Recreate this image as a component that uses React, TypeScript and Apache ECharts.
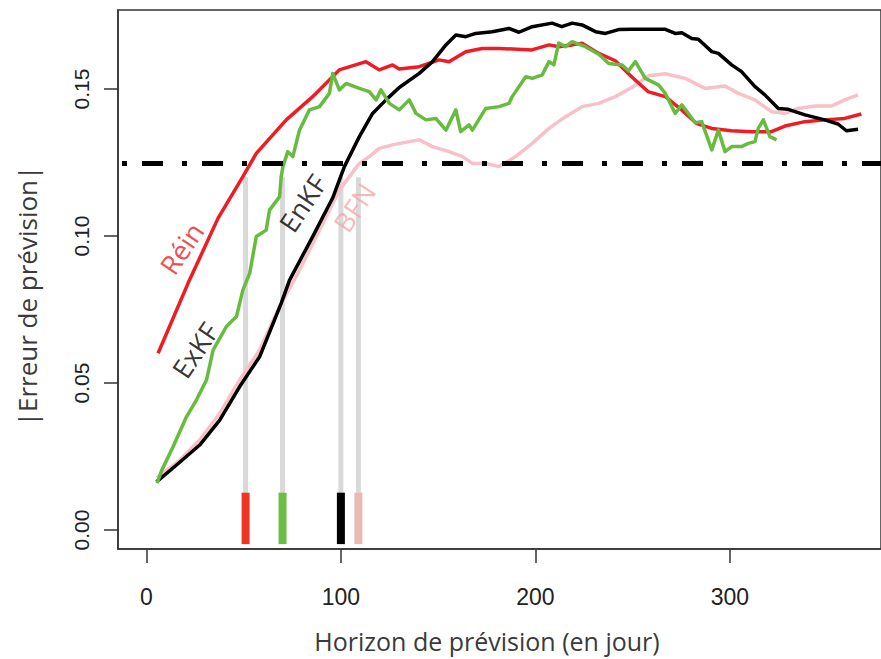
import { useEffect, useRef } from "react";
import * as echarts from "echarts";

// Réin (red)
const reinX = [6, 21.4, 36.8, 49.6, 56.5, 71.9, 85.5, 99.2, 112.9, 119.7, 126.6, 130, 140.3, 150.5, 155.6, 164.2, 172.7, 181.3, 198.2, 207, 212, 218.9, 224, 232.6, 241.1, 249.6, 258.2, 266.8, 275.2, 283, 290.7, 300.8, 311.2, 321.4, 328.3, 338.6, 348.8, 359, 367.6];
const reinY = [0.0601, 0.0839, 0.106, 0.1202, 0.1281, 0.1395, 0.1474, 0.1565, 0.1593, 0.1565, 0.1582, 0.1568, 0.1576, 0.1599, 0.1593, 0.1627, 0.1638, 0.1638, 0.1633, 0.165, 0.1644, 0.165, 0.1656, 0.1621, 0.1596, 0.1541, 0.149, 0.1474, 0.1429, 0.1382, 0.1366, 0.1358, 0.1355, 0.1355, 0.1374, 0.1389, 0.1395, 0.14, 0.1415];

// EnKF (black)
const enkfX = [5.2, 15.5, 27.4, 37.7, 47.9, 58.2, 69.3, 73.6, 85.5, 95.8, 101.8, 109.5, 116.3, 123.2, 130, 140.3, 147.1, 154, 159.1, 164.2, 169.3, 177.8, 186.4, 191.5, 198.4, 208.6, 213.6, 218.9, 224, 230.9, 236, 242.8, 249.6, 266.8, 271.9, 275.3, 280.4, 283.8, 290.7, 294.1, 300.9, 306, 312.9, 318, 324.9, 330, 338.6, 348.8, 355.6, 359.9, 365.9];
const enkfY = [0.0164, 0.0221, 0.0289, 0.0374, 0.0487, 0.0589, 0.0771, 0.085, 0.0998, 0.113, 0.1236, 0.1338, 0.1417, 0.1463, 0.1505, 0.1553, 0.1593, 0.165, 0.1684, 0.1678, 0.1689, 0.1695, 0.1706, 0.1693, 0.1712, 0.1724, 0.1712, 0.1724, 0.1718, 0.1695, 0.1689, 0.1702, 0.1703, 0.1703, 0.1689, 0.1691, 0.1672, 0.1669, 0.1627, 0.1621, 0.1582, 0.1559, 0.1508, 0.148, 0.1434, 0.1431, 0.1412, 0.1395, 0.1381, 0.1358, 0.1363];

// ExKF (green)
const exkfX = [5.5, 7.8, 13.7, 20.6, 25.7, 30.9, 34.3, 41.1, 46.3, 49.6, 53.1, 56.5, 61.6, 63.3, 68.5, 69.3, 70.2, 72.7, 75.3, 78.7, 83.8, 89, 94.1, 95.8, 99.2, 102.7, 109.5, 114.6, 118.1, 120.6, 124.9, 130, 135.1, 138.6, 143.7, 148.8, 154, 159.1, 161.6, 165.9, 167.6, 174.5, 181.3, 186.4, 188.1, 195, 198.4, 203.5, 207, 209.5, 212, 215.5, 218.9, 225.7, 232.6, 237.7, 244.5, 247.9, 251.4, 256.5, 263.3, 266.8, 271.9, 275.3, 282.2, 285.5, 290.7, 294.1, 297.5, 300.9, 306, 309.5, 312.9, 314.6, 317.2, 320.6, 324];
const exkfY = [0.0159, 0.0202, 0.0283, 0.0385, 0.0442, 0.051, 0.0612, 0.0692, 0.0726, 0.0816, 0.0873, 0.0998, 0.102, 0.1088, 0.1134, 0.1202, 0.1236, 0.1287, 0.127, 0.136, 0.1429, 0.144, 0.1485, 0.1553, 0.1497, 0.1519, 0.1502, 0.1491, 0.1463, 0.1497, 0.1451, 0.1429, 0.1463, 0.1417, 0.1395, 0.14, 0.136, 0.1429, 0.1355, 0.1378, 0.136, 0.1434, 0.144, 0.1451, 0.1474, 0.1542, 0.1536, 0.1548, 0.1593, 0.1582, 0.1656, 0.1644, 0.1661, 0.1644, 0.1618, 0.1587, 0.1582, 0.1562, 0.1593, 0.1536, 0.1514, 0.1485, 0.1417, 0.1446, 0.1385, 0.1389, 0.1293, 0.136, 0.1287, 0.1304, 0.1304, 0.1315, 0.1321, 0.1366, 0.1395, 0.1338, 0.1327];

// BFN (pink)
const bfnX = [5.4, 17.2, 27.4, 37.7, 47.9, 58.2, 68.5, 78.7, 89, 99.2, 109.5, 114.6, 119.7, 126.6, 135.1, 140.3, 147.1, 155.6, 162.5, 167.6, 174.5, 181.3, 189.8, 198.4, 207, 215.5, 224, 232.6, 241.1, 249.6, 258.2, 266.8, 277, 287.3, 297.5, 304.4, 312.9, 321.4, 328.3, 335.1, 343.7, 352.2, 359, 365.9];
const bfnY = [0.0177, 0.0238, 0.0306, 0.0397, 0.051, 0.0612, 0.076, 0.0884, 0.102, 0.1156, 0.1247, 0.127, 0.1298, 0.131, 0.1321, 0.1327, 0.1304, 0.1287, 0.127, 0.1247, 0.1247, 0.1236, 0.127, 0.1315, 0.1366, 0.1406, 0.144, 0.1451, 0.1474, 0.1505, 0.1545, 0.1552, 0.1536, 0.1502, 0.151, 0.1485, 0.1463, 0.1423, 0.1417, 0.1434, 0.1442, 0.1442, 0.1463, 0.148];

// threshold markers
const markerDays = [51, 70, 100, 109];
const markerColors = ["#ee3524", "#6abd45", "#000000", "#e8b9b5"];
const markerTop = 0.12;
const barTop = 0.0127;
const barBottom = -0.0048;
const threshold = 0.1247;

// ticks
const xTicks = [0, 100, 200, 300];
const yTicks = [0, 0.05, 0.1, 0.15];

// curve labels
const labelNames = ["Réin", "ExKF", "EnKF", "BFN"];
const labelX = [18, 24.9, 80.3, 106.9];
const labelY = [0.0958, 0.0612, 0.1112, 0.1097];
const labelColors = ["#ee1c24", "#000000", "#000000", "#f2a9a9"];

const X_MIN = -14.6;
const X_MAX = 377.7;
const Y_MIN = -0.00646;
const Y_MAX = 0.17687;

const zip = (xs: number[], ys: number[]) => xs.map((x, i) => [x, ys[i]]);

export default function App() {
  const ref = useRef<HTMLDivElement>(null);
  useEffect(() => {
    if (!ref.current) return;
    const chart = echarts.init(ref.current, null, { renderer: "svg" });
    const series: any[] = [];
    markerDays.forEach((d) => {
      series.push({
        type: "line",
        data: [[d, barTop], [d, markerTop]],
        symbol: "none",
        lineStyle: { color: "#d9d9d9", width: 5 },
        z: 1,
        silent: true,
      });
    });
    markerDays.forEach((d, i) => {
      series.push({
        type: "line",
        data: [[d, barBottom], [d, barTop]],
        symbol: "none",
        lineStyle: { color: markerColors[i], width: 8, cap: "butt" },
        z: 2,
        silent: true,
      });
    });
    const curves = [
      { x: bfnX, y: bfnY, c: "#f8c0c9" },
      { x: reinX, y: reinY, c: "#ee1c24" },
      { x: enkfX, y: enkfY, c: "#000000" },
      { x: exkfX, y: exkfY, c: "#67bb3f" },
    ];
    curves.forEach((cv) => {
      series.push({
        type: "line",
        data: zip(cv.x, cv.y),
        symbol: "none",
        lineStyle: { color: cv.c, width: 3.5, join: "round" },
        z: 3,
        silent: true,
      });
    });
    series.push({
      type: "line",
      data: [[X_MIN, threshold], [X_MAX, threshold]],
      symbol: "none",
      lineStyle: { color: "#000", width: 5, type: [21, 19, 5, 15], dashOffset: 36 },
      z: 4,
      silent: true,
    });
    series.push({
      type: "scatter",
      data: labelNames.map((n, i) => ({
        value: [labelX[i], labelY[i]],
        name: n,
        label: {
          show: true,
          formatter: n,
          position: "inside",
          rotate: 56,
          color: labelColors[i],
          fontSize: 27,
          fontFamily: "Open Sans",
        },
      })),
      symbolSize: 1,
      itemStyle: { color: "transparent" },
      z: 5,
      silent: true,
    });

    chart.setOption({
      animation: false,
      backgroundColor: "#ffffff",
      grid: {
        left: 118,
        top: 10,
        right: -2,
        bottom: 110,
        show: true,
        borderColor: "#333",
        borderWidth: 1.5,
        containLabel: false,
      },
      xAxis: {
        type: "value",
        min: X_MIN,
        max: X_MAX,
        axisLine: { show: true, onZero: false, lineStyle: { color: "#333", width: 1.5 } },
        axisTick: { show: true, customValues: xTicks, length: 14, lineStyle: { color: "#333", width: 1.5 } },
        axisLabel: {
          customValues: xTicks,
          fontSize: 23,
          fontFamily: "Liberation Sans",
          color: "#222",
          margin: 36,
        },
        splitLine: { show: false },
      },
      yAxis: {
        type: "value",
        min: Y_MIN,
        max: Y_MAX,
        axisLine: { show: true, onZero: false, lineStyle: { color: "#333", width: 1.5 } },
        axisTick: { show: true, customValues: yTicks, length: 14, lineStyle: { color: "#333", width: 1.5 } },
        axisLabel: {
          customValues: yTicks,
          rotate: 90,
          fontSize: 21,
          fontFamily: "Liberation Sans",
          color: "#222",
          margin: 26,
          formatter: (v: number) => v.toFixed(2),
        },
        splitLine: { show: false },
      },
      graphic: [
        {
          type: "text",
          x: 487,
          y: 641,
          style: {
            text: "Horizon de prévision (en jour)",
            fontSize: 25,
            fontFamily: "Open Sans",
            fill: "#3a3a3a",
            textAlign: "center",
            textVerticalAlign: "middle",
          },
        },
        {
          type: "text",
          x: 27,
          y: 296,
          rotation: Math.PI / 2,
          style: {
            text: "|Erreur de prévision|",
            fontSize: 26,
            fontFamily: "Open Sans",
            fill: "#3a3a3a",
            textAlign: "center",
            textVerticalAlign: "middle",
          },
        },
      ],
      series,
    });
    return () => chart.dispose();
  }, []);
  return (
    <div
      ref={ref}
      style={{ position: "fixed", left: 0, top: 0, width: 881, height: 659 }}
    />
  );
}
